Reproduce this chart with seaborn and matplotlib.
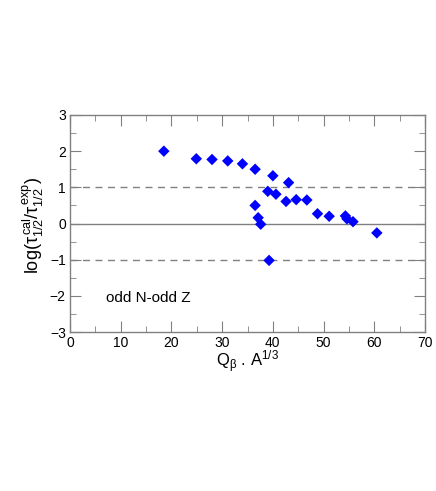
import numpy as np
import pandas as pd
import seaborn as sns
import matplotlib.pyplot as plt
from matplotlib.ticker import MultipleLocator

# --- data ---
q_a13 = [18.5, 24.9, 28.0, 31.1, 34.0, 36.5, 36.5, 37.1, 37.6, 39.0, 39.25,
         40.0, 40.6, 42.6, 43.1, 44.6, 46.7, 48.8, 51.1, 54.3, 54.6, 55.8, 60.5]
log_ratio = [2.00, 1.79, 1.77, 1.73, 1.65, 1.50, 0.50, 0.16, -0.02, 0.89, -1.02,
             1.32, 0.81, 0.61, 1.13, 0.66, 0.65, 0.27, 0.20, 0.21, 0.13, 0.05, -0.26]
x_ticks = [0, 10, 20, 30, 40, 50, 60, 70]
y_ticks = [-3, -2, -1, 0, 1, 2, 3]

df = pd.DataFrame({'x': q_a13, 'y': log_ratio})

sns.set_style('ticks')
plt.rcParams['font.family'] = ['Liberation Sans', 'DejaVu Sans']
plt.rcParams['mathtext.fontset'] = 'custom'
plt.rcParams['mathtext.rm'] = 'Liberation Sans'
plt.rcParams['mathtext.it'] = 'Liberation Sans'
plt.rcParams['mathtext.default'] = 'regular'
plt.rcParams['text.color'] = 'black'
plt.rcParams['axes.labelcolor'] = 'black'
plt.rcParams['xtick.labelcolor'] = 'black'
plt.rcParams['ytick.labelcolor'] = 'black'

fig = plt.figure(figsize=(4.36, 4.91), dpi=100)
ax = fig.add_axes([0.1606, 0.3238, 0.8142, 0.442])

grey = '#808080'
ax.axhline(0, color=grey, lw=1.0, zorder=1)
ax.axhline(1, color=grey, lw=1.0, ls=(0, (5, 4)), zorder=1)
ax.axhline(-1, color=grey, lw=1.0, ls=(0, (5, 4)), zorder=1)

sns.scatterplot(data=df, x='x', y='y', ax=ax, marker='D', color='#0000ff',
                s=34, edgecolor='none', zorder=3)

ax.set_xlim(0, 70)
ax.set_ylim(-3, 3)
ax.set_xticks(x_ticks)
ax.set_yticks(y_ticks)
ax.xaxis.set_minor_locator(MultipleLocator(5))
ax.yaxis.set_minor_locator(MultipleLocator(0.5))
ax.tick_params(which='both', direction='in', top=True, right=True,
               color=grey, labelsize=10, pad=3)
ax.tick_params(which='major', length=8)
ax.tick_params(which='minor', length=4)
for sp in ax.spines.values():
    sp.set_visible(True)
    sp.set_color(grey)
    sp.set_linewidth(1.0)

ax.set_xlabel(r'Q$_{\beta}$ . A$^{1/3}$', fontsize=12, labelpad=-1)
ax.set_ylabel(r'log($\tau_{1/2}^{\,cal}$/$\tau_{1/2}^{\,exp}$)', fontsize=13)
ax.yaxis.set_label_coords(-0.068, 0.49)

ax.text(7, -2.07, 'odd N-odd Z', fontsize=11, va='center', ha='left')

fig.savefig('out.png', dpi=100)
